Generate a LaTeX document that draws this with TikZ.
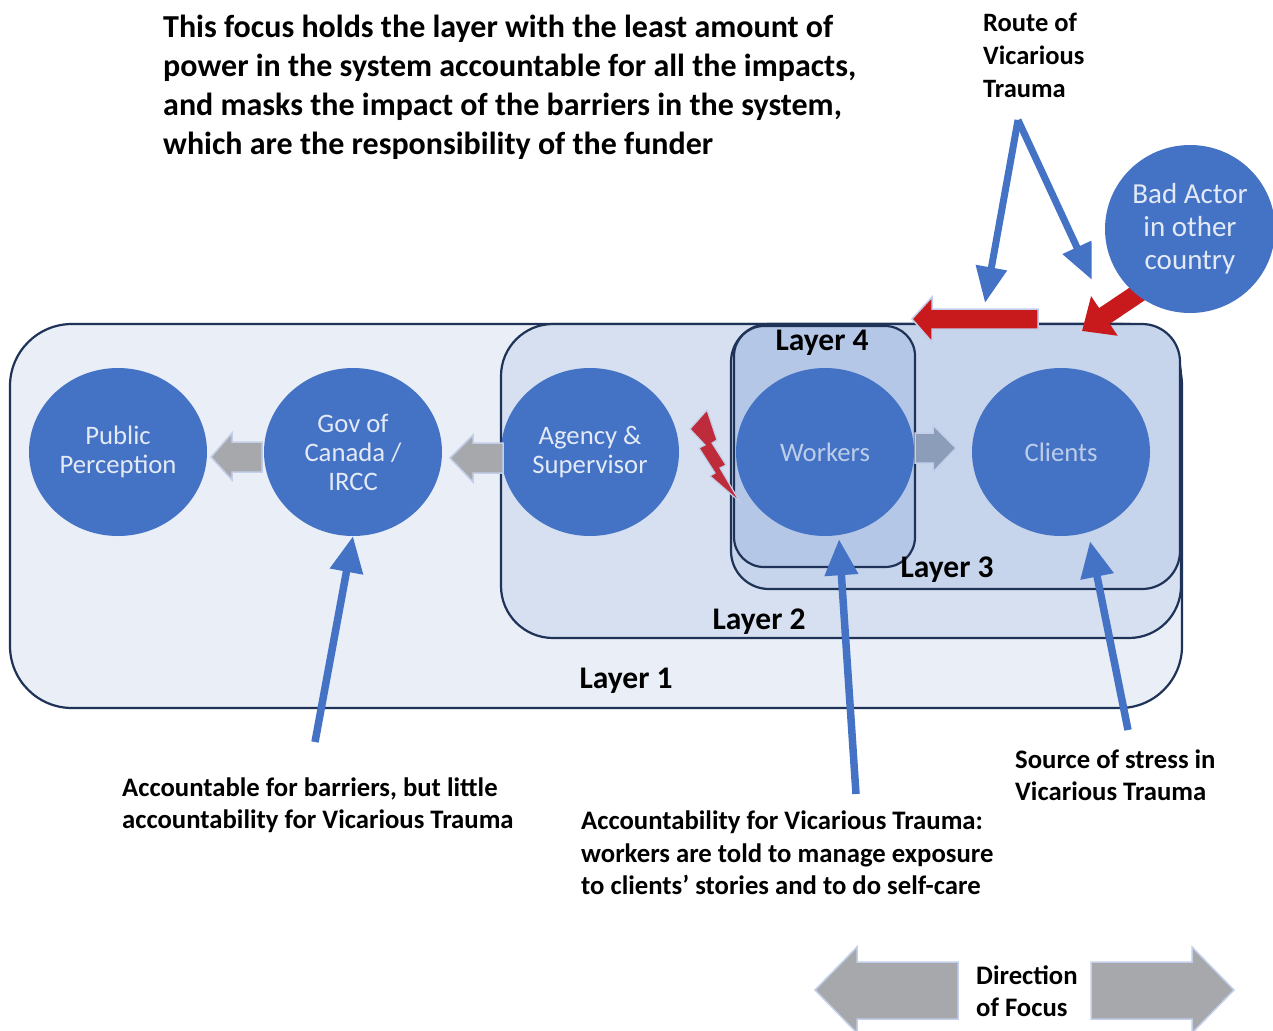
\documentclass[tikz,border=0pt]{standalone}
\usepackage{fontspec}
\setmainfont{Carlito}
\usetikzlibrary{arrows.meta,shapes.geometric}
\definecolor{bubblefill}{HTML}{4472C4}
\definecolor{bubbletext}{HTML}{E3EAF6}
\definecolor{dimtext}{HTML}{BCCDEA}
\definecolor{frame}{HTML}{1F3257}
\definecolor{layerone}{HTML}{E9EEF7}
\definecolor{layertwo}{HTML}{D6E0F1}
\definecolor{layerthree}{HTML}{C6D4EC}
\definecolor{layerfour}{HTML}{B5C7E6}
\definecolor{flowgrey}{HTML}{A6A8AB}
\definecolor{flowslate}{HTML}{8C9DBA}
\definecolor{glow}{HTML}{C3CFEA}
\definecolor{alarm}{HTML}{C8191D}
\definecolor{bolt}{HTML}{BE2B3A}
\begin{document}
\begin{tikzpicture}[x=1pt,y=-1pt,
  layerbox/.style={draw=frame, line width=2.2pt},
  bubble/.style={ellipse, fill=bubblefill, minimum width=178pt, minimum height=168pt,
    inner sep=0pt, align=center, text=bubbletext, font=\fontsize{26.7}{29}\selectfont},
  layerlabel/.style={font=\bfseries\fontsize{31.5}{34}\selectfont, inner sep=0pt},
  note/.style={font=\bfseries\fontsize{26.7}{32.5}\selectfont, align=left, anchor=west, inner sep=0pt},
  pointer/.style={draw=bubblefill, line width=7.5pt, -{Triangle[length=36pt,width=32pt]}},
  flow/.style={draw=glow, line width=1.5pt, line join=miter},
]
\useasboundingbox (0,0) rectangle (1273,1030);

% nested layers
\filldraw[layerbox, fill=layerone, rounded corners=62pt] (10,324) rectangle (1182,708);
\filldraw[layerbox, fill=layertwo, rounded corners=52pt] (501,324) rectangle (1181,638);
\filldraw[layerbox, fill=layerthree, rounded corners=38pt] (731,324) rectangle (1180,589);
\filldraw[layerbox, fill=layerfour, rounded corners=30pt] (734,326) rectangle (915,567);

% actors
\node[bubble] (pub) at (118,452) {Public\\Perception};
\node[bubble] (gov) at (353,452) {Gov of\\Canada /\\IRCC};
\node[bubble] (agency) at (590,452) {Agency \&\\Supervisor};
\node[bubble, text=dimtext] (workers) at (825,452) {Workers};
\node[bubble, text=dimtext] (clients) at (1061,452) {Clients};

% flow between actors
\filldraw[flow, fill=flowgrey] (262,442) -- (232,442) -- (232,433) -- (211,457)
  -- (232,480) -- (232,472) -- (262,472) -- cycle;
\filldraw[flow, fill=flowgrey] (503,443) -- (473,443) -- (473,435) -- (450,458)
  -- (473,482) -- (473,473) -- (503,473) -- cycle;
\filldraw[flow, fill=flowslate] (915,433) -- (933,433) -- (933,425) -- (956,448)
  -- (933,472) -- (933,463) -- (915,463) -- cycle;

% stress between agency and workers
\filldraw[draw=glow, line width=1.2pt, fill=bolt, line join=miter]
  (690,429) -- (707,410) -- (717,440) -- (712,443) -- (726,465) -- (720,468)
  -- (740,502) -- (710,476) -- (715,473) -- (699,448) -- (705,445) -- cycle;

% layer names
\node[layerlabel] (l4) at (822,343) {Layer 4};
\node[layerlabel] (l3) at (947,570) {Layer 3};
\node[layerlabel] (l2) at (759,622) {Layer 2};
\node[layerlabel] (l1) at (626,681) {Layer 1};

% outside source of trauma
\filldraw[flow, fill=alarm] (1038,309) -- (932,309) -- (932,297) -- (912,319)
  -- (932,342) -- (932,329) -- (1038,329) -- cycle;
\draw[alarm, line width=19pt, -{Triangle[length=27pt,width=46pt]}] (1146,288) -- (1082,331);
\node[bubble, minimum width=170pt, font=\fontsize{29}{33}\selectfont] (bad) at (1190,229)
  {Bad Actor\\in other\\country};

% headline
\node[font=\bfseries\fontsize{32}{39}\selectfont, align=left, anchor=north west, inner sep=0pt]
  (head) at (163,15) {This focus holds the layer with the least amount of\\
  power in the system accountable for all the impacts,\\
  and masks the impact of the barriers in the system,\\
  which are the responsibility of the funder};

% route of vicarious trauma
\node[note, font=\bfseries\fontsize{26.5}{33}\selectfont] (route) at (983,55)
  {Route of\\Vicarious\\Trauma};
\coordinate (apex) at (1018,120);
\draw[pointer, line width=7pt, -{Triangle[length=36pt,width=30pt]}] (apex) -- (985,303);
\draw[pointer, line width=7pt, -{Triangle[length=36pt,width=30pt]}] (apex) -- (1092,280);

% accountability notes
\node[note] (govnote) at (122,805) {Accountable for barriers, but little\\accountability for Vicarious Trauma};
\node[note] (worknote) at (581,853) {Accountability for Vicarious Trauma:\\workers are told to manage exposure\\to clients’ stories and to do self-care};
\node[note] (clientnote) at (1015,775) {Source of stress in\\Vicarious Trauma};
\coordinate (govfoot) at (315,742);
\coordinate (workfoot) at (856,794);
\coordinate (clientfoot) at (1128,730);
\draw[pointer] (govfoot) -- (gov.south);
\draw[pointer] (workfoot) -- ([xshift=14pt,yshift=-3pt]workers.south);
\draw[pointer] (clientfoot) -- ([xshift=29pt,yshift=-5pt]clients.south);

% direction of focus
\filldraw[flow, fill=flowgrey] (958,962) -- (857,962) -- (857,947) -- (815,990)
  -- (857,1033) -- (857,1019) -- (958,1019) -- cycle;
\filldraw[flow, fill=flowgrey] (1091,962) -- (1192,962) -- (1192,947) -- (1234,990)
  -- (1192,1033) -- (1192,1019) -- (1091,1019) -- cycle;
\node[note] (focus) at (976,991) {Direction\\of Focus};
\end{tikzpicture}
\end{document}
